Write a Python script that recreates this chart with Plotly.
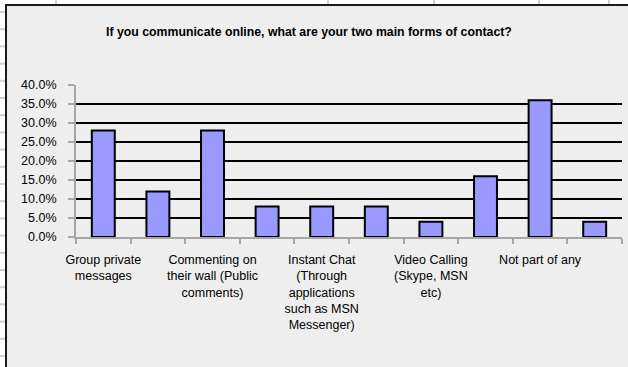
import plotly.graph_objects as go

# Survey answers (share of respondents), one bar per option
bar_pos = list(range(10))
shares = [0.28, 0.12, 0.28, 0.08, 0.08, 0.08, 0.04, 0.16, 0.36, 0.04]

# Only every other category carries a visible label
label_pos = [0, 2, 4, 6, 8]
label_text = [
    "Group private<br>messages",
    "Commenting on<br>their wall (Public<br>comments)",
    "Instant Chat<br>(Through<br>applications<br>such as MSN<br>Messenger)",
    "Video Calling<br>(Skype, MSN<br>etc)",
    "Not part of any",
]
y_ticks = [0.0, 0.05, 0.10, 0.15, 0.20, 0.25, 0.30, 0.35, 0.40]

title_text = "If you communicate online, what are your two main forms of contact?"

# Page geometry (pixels)
FIG_W, FIG_H = 628, 367
L, R, T, B = 76, 6, 85, 130
PW, PH = FIG_W - L - R, FIG_H - T - B


def px_x(px):
    return (px - L) / PW


def px_y(py):
    return 1 - (py - T) / PH


FONT = "Liberation Sans, Arial, sans-serif"
CELL_LINE = "#c9d0de"

fig = go.Figure()
fig.add_trace(go.Bar(
    x=bar_pos,
    y=shares,
    width=0.42,
    marker=dict(color="#9999ff", line=dict(color="#000000", width=2)),
    hoverinfo="y",
))

shapes = []
# worksheet cell borders peeking out around the chart
for x in [56, 328, 434, 539, 609]:
    shapes.append(dict(type="line", xref="paper", yref="paper",
                       x0=px_x(x), x1=px_x(x), y0=px_y(0), y1=px_y(5),
                       line=dict(color=CELL_LINE, width=2), layer="below"))
y = 12.0
while y < FIG_H:
    shapes.append(dict(type="line", xref="paper", yref="paper",
                       x0=px_x(0), x1=px_x(6), y0=px_y(y), y1=px_y(y),
                       line=dict(color=CELL_LINE, width=2), layer="below"))
    y += 17.2
# chart area box
shapes.append(dict(type="rect", xref="paper", yref="paper",
                   x0=px_x(6), x1=px_x(FIG_W + 10), y0=px_y(5), y1=px_y(FIG_H + 10),
                   fillcolor="#eeeeee", line=dict(color="#1a1a1a", width=2),
                   layer="below"))

fig.update_layout(
    width=FIG_W, height=FIG_H,
    margin=dict(l=L, r=R, t=T, b=B, pad=0),
    paper_bgcolor="#ffffff",
    plot_bgcolor="#eeeeee",
    showlegend=False,
    bargap=0.58,
    font=dict(family=FONT, size=12, color="#000000"),
    shapes=shapes,
    annotations=[dict(
        text="<b>" + title_text + "</b>",
        xref="paper", yref="paper",
        x=px_x(309), y=px_y(32),
        xanchor="center", yanchor="middle",
        showarrow=False,
        font=dict(family=FONT, size=12.3, color="#000000"),
    )],
    xaxis=dict(
        range=[-0.5, 9.5],
        tickvals=label_pos,
        ticktext=label_text,
        ticks="",
        ticklabelstandoff=10,
        showgrid=False,
        zeroline=False,
        showline=True,
        linecolor="#a6a6a6",
        linewidth=2,
        tickfont=dict(family=FONT, size=12.5, color="#000000"),
        minor=dict(ticks="outside", tick0=-0.5, dtick=1, ticklen=5,
                   tickcolor="#a6a6a6", tickwidth=2, showgrid=False),
        fixedrange=True,
    ),
    yaxis=dict(
        range=[0, 0.4],
        tickvals=y_ticks,
        tickformat=".1%",
        ticks="outside",
        ticklen=6,
        tickcolor="#a6a6a6",
        tickwidth=2,
        ticklabelstandoff=9,
        showgrid=True,
        gridcolor="#000000",
        gridwidth=2,
        zeroline=False,
        showline=True,
        linecolor="#a6a6a6",
        linewidth=2,
        tickfont=dict(family=FONT, size=12.5, color="#000000"),
        fixedrange=True,
    ),
)

fig.write_html("out.html")
